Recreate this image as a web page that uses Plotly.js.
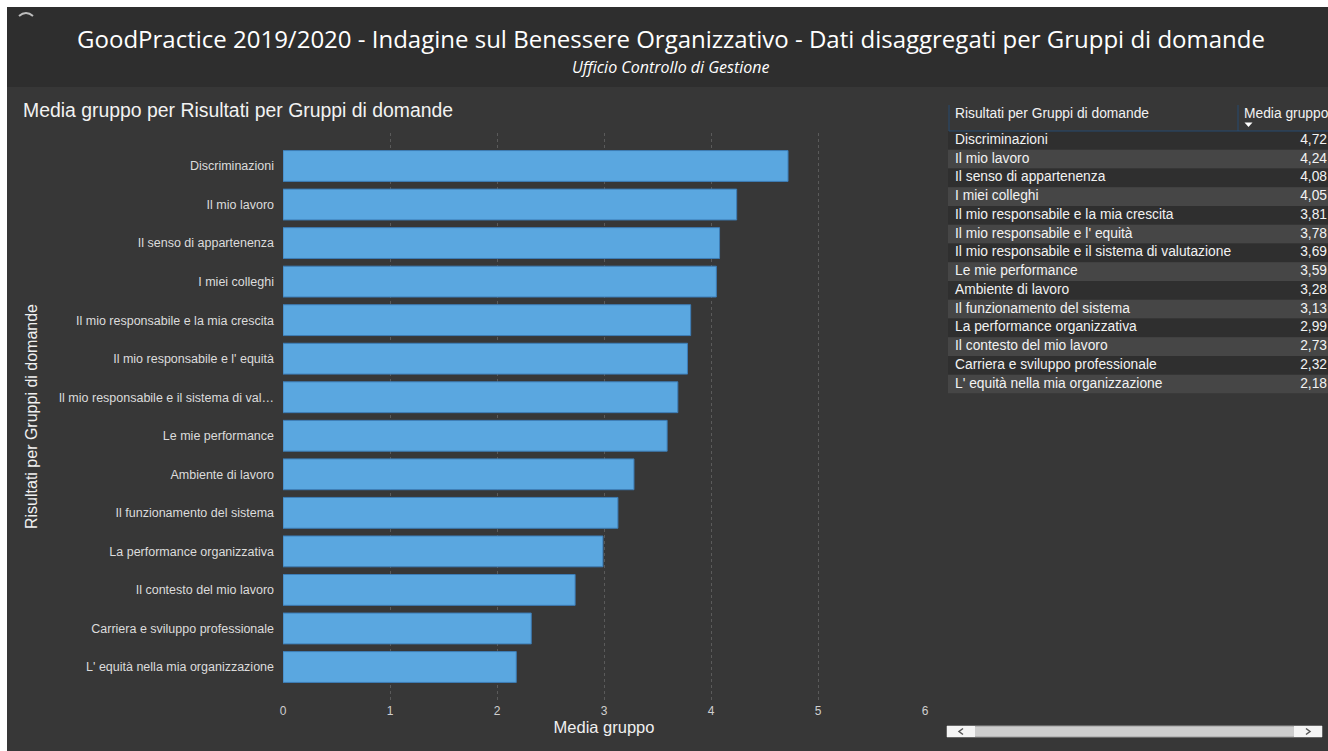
<!DOCTYPE html>
<html>
<head>
<meta charset="utf-8">
<script src="https://cdn.plot.ly/plotly-3.0.1.min.js"></script>
<style>
  html, body { margin: 0; padding: 0; background: #ffffff; overflow: hidden; width: 1328px; height: 751px; }
  #chart { position: absolute; left: 7px; top: 7px; width: 1338px; height: 744px;
           background: linear-gradient(#2e2e2e 0px, #2e2e2e 80px, #373737 80px, #373737 100%); }
</style>
</head>
<body>
<div id="chart"></div>
<script>
// ---- data ----
const categories = [
  "Discriminazioni",
  "Il mio lavoro",
  "Il senso di appartenenza",
  "I miei colleghi",
  "Il mio responsabile e la mia crescita",
  "Il mio responsabile e l' equità",
  "Il mio responsabile e il sistema di valutazione",
  "Le mie performance",
  "Ambiente di lavoro",
  "Il funzionamento del sistema",
  "La performance organizzativa",
  "Il contesto del mio lavoro",
  "Carriera e sviluppo professionale",
  "L' equità nella mia organizzazione"
];
const values = [4.72, 4.24, 4.08, 4.05, 3.81, 3.78, 3.69, 3.59, 3.28, 3.13, 2.99, 2.73, 2.32, 2.18];
const xTickValues = [0, 1, 2, 3, 4, 5, 6];
const tableHeaders = ["Risultati per Gruppi di domande", "Media gruppo"];
const mainTitle = "GoodPractice 2019/2020 - Indagine sul Benessere Organizzativo - Dati disaggregati per Gruppi di domande";
const subTitle = "Ufficio Controllo di Gestione";
const chartTitle = "Media gruppo per Risultati per Gruppi di domande";
const xTitle = "Media gruppo";
const yTitle = "Risultati per Gruppi di domande";

// ---- geometry helpers (div px) ----
const W = 1338, H = 744;
const M = { l: 276, r: 0, t: 90, b: 51 };
const PW = W - M.l - M.r, PH = H - M.t - M.b;
const fx = px => (px - M.l) / PW;          // div px -> paper x
const fy = py => (H - M.b - py) / PH;      // div px -> paper y
const P = v => v - 7;                       // page px -> div px

const trunc = s => s.length > 39 ? s.slice(0, 39) + "…" : s;
const fmt = v => v.toFixed(2).replace(".", ",");

// table geometry (page px)
const T = { x0: 948, x1: 1345, sep: 1238, hTop: 105, hBot: 131, rowsBot: 393.5, numRight: 1327, textLeft: 955 };
const TW = T.x1 - T.x0;
const rowFills = categories.map((_, i) => i % 2 === 0 ? "#2f2f2f" : "#464646");
const tableFont = { family: "Liberation Sans, Arial, sans-serif", size: 13.8, color: "#f2f2f2" };

const bar = {
  type: "bar", orientation: "h",
  x: values, y: categories, width: 0.8,
  marker: { color: "#5aa7e0", line: { color: "#3d7db6", width: 1 } },
  hoverinfo: "skip", xaxis: "x", yaxis: "y"
};

// table body: row backgrounds + two text columns on their own axes
const rowBg = {
  type: "bar", orientation: "h",
  x: categories.map(() => TW), y: categories, base: 0, width: 1,
  marker: { color: rowFills, line: { width: 0 } },
  hoverinfo: "skip", xaxis: "x2", yaxis: "y2"
};
const colNames = {
  type: "scatter", mode: "text",
  x: categories.map(() => T.textLeft - T.x0), y: categories,
  text: categories, textposition: "middle right", textfont: tableFont,
  hoverinfo: "skip", xaxis: "x2", yaxis: "y2", cliponaxis: false
};
const colValues = {
  type: "scatter", mode: "text",
  x: categories.map(() => T.numRight - T.x0), y: categories,
  text: values.map(fmt), textposition: "middle left", textfont: tableFont,
  hoverinfo: "skip", xaxis: "x2", yaxis: "y2", cliponaxis: false
};

// decorative shapes
const sb = { x0: 947, x1: 1322, y0: 726, y1: 737, btn: 28 };
const hdrLine = { color: "#264a70", width: 1 };
const shapes = [
  // table header borders
  { type: "line", xref: "paper", yref: "paper", x0: fx(P(T.x0 + 1)), x1: fx(P(T.x1)), y0: fy(P(T.hBot)), y1: fy(P(T.hBot)), line: hdrLine },
  { type: "line", xref: "paper", yref: "paper", x0: fx(P(T.x0 + 1)), x1: fx(P(T.x0 + 1)), y0: fy(P(T.hTop)), y1: fy(P(T.hBot)), line: hdrLine },
  { type: "line", xref: "paper", yref: "paper", x0: fx(P(T.sep)), x1: fx(P(T.sep)), y0: fy(P(T.hTop)), y1: fy(P(T.hBot)), line: hdrLine },
  // scrollbar
  { type: "rect", xref: "paper", yref: "paper", x0: fx(P(sb.x0)), x1: fx(P(sb.x1)), y0: fy(P(sb.y1)), y1: fy(P(sb.y0)),
    fillcolor: "#cdcdcd", line: { color: "#9a9a9a", width: 1 } },
  { type: "rect", xref: "paper", yref: "paper", x0: fx(P(sb.x0)), x1: fx(P(sb.x0 + sb.btn)), y0: fy(P(sb.y1)), y1: fy(P(sb.y0)),
    fillcolor: "#f4f4f4", line: { width: 0 } },
  { type: "rect", xref: "paper", yref: "paper", x0: fx(P(sb.x1 - sb.btn)), x1: fx(P(sb.x1)), y0: fy(P(sb.y1)), y1: fy(P(sb.y0)),
    fillcolor: "#f4f4f4", line: { width: 0 } },
  { type: "path", xref: "paper", yref: "paper",
    path: `M ${fx(P(963))} ${fy(P(728.5))} L ${fx(P(959))} ${fy(P(731.5))} L ${fx(P(963))} ${fy(P(734.5))}`,
    line: { color: "#555555", width: 1.5 } },
  { type: "path", xref: "paper", yref: "paper",
    path: `M ${fx(P(1306))} ${fy(P(728.5))} L ${fx(P(1310))} ${fy(P(731.5))} L ${fx(P(1306))} ${fy(P(734.5))}`,
    line: { color: "#555555", width: 1.5 } },
  // sort arrow in header
  { type: "path", xref: "paper", yref: "paper",
    path: `M ${fx(P(1244.5))} ${fy(P(122.5))} L ${fx(P(1252.5))} ${fy(P(122.5))} L ${fx(P(1248.5))} ${fy(P(127))} Z`,
    fillcolor: "#ffffff", line: { width: 0 } },
  // small icon top-left
  { type: "path", xref: "paper", yref: "paper",
    path: `M ${fx(P(19))} ${fy(P(16))} Q ${fx(P(26))} ${fy(P(10))} ${fx(P(33))} ${fy(P(16))}`,
    line: { color: "#bdbdbd", width: 2 } }
];

const layout = {
  width: W, height: H, margin: M,
  paper_bgcolor: "rgba(0,0,0,0)", plot_bgcolor: "rgba(0,0,0,0)",
  showlegend: false, barmode: "overlay",
  font: { family: "Liberation Sans, Arial, sans-serif", color: "#e0e0e0" },
  title: {
    text: mainTitle, xref: "container", yref: "container",
    x: (671 - 7) / W, y: 1 - (40 - 7) / H, xanchor: "center", yanchor: "middle",
    font: { family: "Open Sans, Noto Sans, sans-serif", size: 24, color: "#ffffff" }
  },
  xaxis: {
    domain: [0, fx(P(925))], range: [0, 6],
    tickmode: "array", tickvals: xTickValues,
    showgrid: true, gridcolor: "#5a5a5a", gridwidth: 1, griddash: "dot",
    zeroline: false, showline: false, ticks: "", ticklabelstandoff: 2,
    tickfont: { size: 12, color: "#cfcfcf" },
    title: { text: xTitle, font: { size: 16.5, color: "#f0f0f0" }, standoff: 4 },
    fixedrange: true
  },
  yaxis: {
    domain: [0, fy(P(133))], type: "category",
    range: [categories.length - 0.5 + 0.356, -0.5 - 0.356],
    tickmode: "array", tickvals: categories, ticktext: categories.map(trunc),
    showgrid: false, zeroline: false, showline: false, ticks: "",
    ticklabelstandoff: 8,
    tickfont: { size: 12.5, color: "#dcdcdc" },
    title: { text: yTitle, font: { size: 16, color: "#f0f0f0" }, standoff: 17 },
    fixedrange: true
  },
  xaxis2: {
    domain: [fx(P(T.x0)), fx(P(T.x1))], range: [0, TW], anchor: "y2",
    visible: false, fixedrange: true
  },
  yaxis2: {
    domain: [fy(P(T.rowsBot)), fy(P(T.hBot))], type: "category",
    range: [categories.length - 0.5, -0.5], anchor: "x2",
    visible: false, fixedrange: true
  },
  annotations: [
    { text: "<i>" + subTitle + "</i>", xref: "paper", yref: "paper", x: fx(P(671)), y: fy(P(67)),
      xanchor: "center", yanchor: "middle", showarrow: false,
      font: { family: "Open Sans, Noto Sans, sans-serif", size: 16, color: "#ffffff" } },
    { text: chartTitle, xref: "paper", yref: "paper", x: fx(P(21)), y: fy(P(110)),
      xanchor: "left", yanchor: "middle", showarrow: false,
      font: { family: "Liberation Sans, Arial, sans-serif", size: 19.4, color: "#f2f2f2" } },
    { text: tableHeaders[0], xref: "paper", yref: "paper", x: fx(P(T.textLeft - 2)), y: fy(P(114)),
      xanchor: "left", yanchor: "middle", showarrow: false, font: tableFont },
    { text: tableHeaders[1], xref: "paper", yref: "paper", x: fx(P(T.sep + 4)), y: fy(P(114)),
      xanchor: "left", yanchor: "middle", showarrow: false, font: tableFont }
  ],
  shapes: shapes
};

Plotly.newPlot("chart", [bar, rowBg, colNames, colValues], layout, { displayModeBar: false, staticPlot: true });
</script>
</body>
</html>
